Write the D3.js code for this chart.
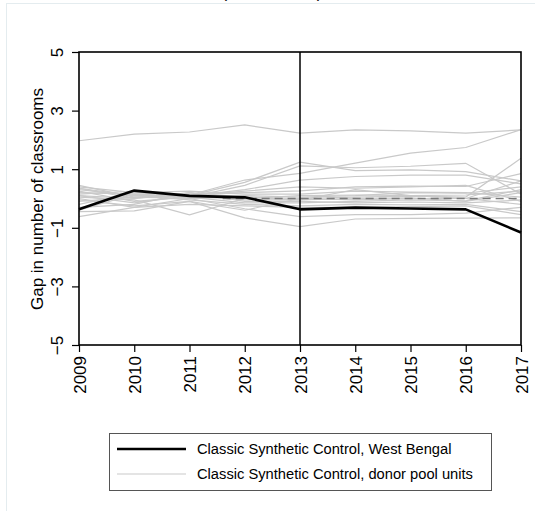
<!DOCTYPE html>
<html>
<head>
<meta charset="utf-8">
<script src="https://cdn.jsdelivr.net/npm/d3@7"></script>
<style>
  body { margin: 0; background: #fff; }
  svg text { font-family: "Liberation Sans", Arial, sans-serif; fill: #000; }
</style>
</head>
<body>
<div id="viz-container"></div>
<script>
// data
let years = [2009, 2010, 2011, 2012, 2013, 2014, 2015, 2016, 2017];
let yTicks = [-5, -3, -1, 1, 3, 5];
let treatYear = 2013;

let westBengal = [-0.37, 0.27, 0.09, 0.04, -0.37, -0.31, -0.34, -0.37, -1.16];

let donors = [
  [1.97, 2.20, 2.27, 2.51, 2.23, 2.34, 2.31, 2.23, 2.34],
  [0.35, 0.10, 0.12, 0.63, 0.86, 1.21, 1.55, 1.74, 2.35],
  [0.45, 0.05, 0.10, 0.55, 1.24, 0.95, 0.98, 0.92, 0.60],
  [0.20, 0.15, 0.05, 0.45, 1.11, 1.05, 1.10, 1.20, 0.15],
  [0.40, 0.20, 0.08, 0.30, 0.63, 0.75, 0.80, 0.80, 0.50],
  [0.10, 0.00, 0.15, 0.20, 0.26, 0.40, 0.42, 0.41, 0.85],
  [0.25, -0.10, 0.05, 0.10, 0.05, 0.10, 0.20, 0.18, 0.40],
  [-0.10, 0.05, 0.00, 0.05, 0.00, 0.05, 0.08, 0.05, 1.37],
  [0.15, 0.25, 0.10, -0.05, -0.05, 0.00, 0.02, -0.10, 0.20],
  [-0.30, -0.20, 0.20, -0.10, -0.10, -0.15, -0.12, -0.15, -0.05],
  [0.05, -0.05, -0.56, 0.00, 0.10, 0.12, 0.10, 0.00, -0.20],
  [-0.62, -0.30, 0.00, -0.35, -0.62, -0.55, -0.55, -0.50, -0.30],
  [-0.45, -0.42, -0.10, -0.66, -0.96, -0.70, -0.68, -0.67, -0.66],
  [0.30, 0.10, -0.05, -0.20, -0.25, -0.20, -0.22, -0.20, -0.45],
  [0.00, -0.30, -0.20, -0.25, -0.30, -0.30, -0.28, -0.25, -0.55],
  [-0.20, 0.20, 0.25, 0.15, 0.15, 0.25, 0.22, 0.20, 0.05],
  [0.10, -0.15, 0.10, 0.25, 0.40, 0.35, 0.40, 0.45, -0.10],
  [-0.40, 0.15, 0.05, -0.15, -0.15, -0.10, -0.05, -0.08, 0.30],
  [0.35, 0.00, 0.20, 0.05, -0.05, 0.30, 0.10, 0.12, 0.25],
  [-0.05, -0.25, -0.10, -0.40, 0.00, -0.05, 0.00, 0.00, 0.60]
];

let legendLabels = ["Classic Synthetic Control, West Bengal", "Classic Synthetic Control, donor pool units"];

let viz = d3.select("#viz-container")
  .append("svg")
  .attr("width", 535)
  .attr("height", 511);

// outer graph region frame (light)
viz.append("rect")
  .attr("x", 6.5).attr("y", 3.5)
  .attr("width", 600).attr("height", 600)
  .attr("fill", "none")
  .attr("stroke", "#e4ecef")
  .attr("stroke-width", 1);

// cut-off title at the very top
viz.append("text")
  .attr("x", 272).attr("y", -2)
  .attr("text-anchor", "middle")
  .style("font-size", "17px")
  .text("(Classrooms)");

let plotL = 79, plotR = 521, plotT = 52, plotB = 345;

let x = d3.scaleLinear().domain([2009, 2017]).range([plotL, plotR]);
let y = d3.scaleLinear().domain([-5, 5]).range([plotB, plotT]);

let line = d3.line()
  .x((d, i) => x(years[i]))
  .y(d => y(d));

// donor pool lines
viz.append("g").selectAll("path")
  .data(donors).enter().append("path")
  .attr("d", line)
  .attr("fill", "none")
  .attr("stroke", "#c9c9c9")
  .attr("stroke-width", 1.2);

// zero reference (dashed) - only visible past the dense pre-period cluster
viz.append("line")
  .attr("x1", x(2011.6)).attr("x2", x(2017))
  .attr("y1", y(0)).attr("y2", y(0))
  .attr("stroke", "#7a7a7a")
  .attr("stroke-width", 1.6)
  .attr("stroke-dasharray", "8,5");

// treated unit
viz.append("path")
  .datum(westBengal)
  .attr("d", line)
  .attr("fill", "none")
  .attr("stroke", "#000")
  .attr("stroke-width", 2.6)
  .attr("stroke-linejoin", "round");

// treatment year line
viz.append("line")
  .attr("x1", x(treatYear)).attr("x2", x(treatYear))
  .attr("y1", plotT).attr("y2", plotB)
  .attr("stroke", "#000")
  .attr("stroke-width", 1.5);

// plot frame
viz.append("rect")
  .attr("x", plotL).attr("y", plotT)
  .attr("width", plotR - plotL).attr("height", plotB - plotT)
  .attr("fill", "none")
  .attr("stroke", "#000")
  .attr("stroke-width", 1.6);

// y axis
let yAxis = viz.append("g")
  .attr("transform", `translate(${plotL},0)`)
  .call(d3.axisLeft(y).tickValues(yTicks).tickSize(7).tickFormat(d3.format("d")));
yAxis.select(".domain").remove();
yAxis.selectAll(".tick line").attr("stroke", "#000").attr("stroke-width", 1.2);
yAxis.selectAll(".tick text")
  .attr("x", null).attr("dy", null)
  .attr("text-anchor", "middle")
  .attr("transform", "translate(-16,0) rotate(-90)")
  .style("font-size", "17px")
  .style("font-family", "Liberation Sans, Arial, sans-serif");

// x axis
let xAxis = viz.append("g")
  .attr("transform", `translate(0,${plotB})`)
  .call(d3.axisBottom(x).tickValues(years).tickSize(7).tickFormat(d3.format("d")));
xAxis.select(".domain").remove();
xAxis.selectAll(".tick line").attr("stroke", "#000").attr("stroke-width", 1.2);
xAxis.selectAll(".tick text")
  .attr("y", null).attr("dy", null)
  .attr("text-anchor", "end")
  .attr("transform", "translate(6,11) rotate(-90)")
  .style("font-size", "17px")
  .style("font-family", "Liberation Sans, Arial, sans-serif");

// y title
viz.append("text")
  .attr("transform", "translate(43,199) rotate(-90)")
  .attr("text-anchor", "middle")
  .style("font-size", "17px")
  .text("Gap in number of classrooms");

// legend
let lg = viz.append("g");
lg.append("rect")
  .attr("x", 109.5).attr("y", 433.5)
  .attr("width", 382).attr("height", 57)
  .attr("fill", "#fff")
  .attr("stroke", "#555")
  .attr("stroke-width", 1);

let legendStyles = [{c: "#000", w: 2.6}, {c: "#c9c9c9", w: 1.2}];
lg.selectAll(".key").data(legendLabels).enter().append("line")
  .attr("x1", 117).attr("x2", 186)
  .attr("y1", (d, i) => 449 + i * 25)
  .attr("y2", (d, i) => 449 + i * 25)
  .attr("stroke", (d, i) => legendStyles[i].c)
  .attr("stroke-width", (d, i) => legendStyles[i].w);
lg.selectAll(".lab").data(legendLabels).enter().append("text")
  .attr("x", 197)
  .attr("y", (d, i) => 454 + i * 25)
  .style("font-size", "14.7px")
  .text(d => d);
</script>
</body>
</html>
